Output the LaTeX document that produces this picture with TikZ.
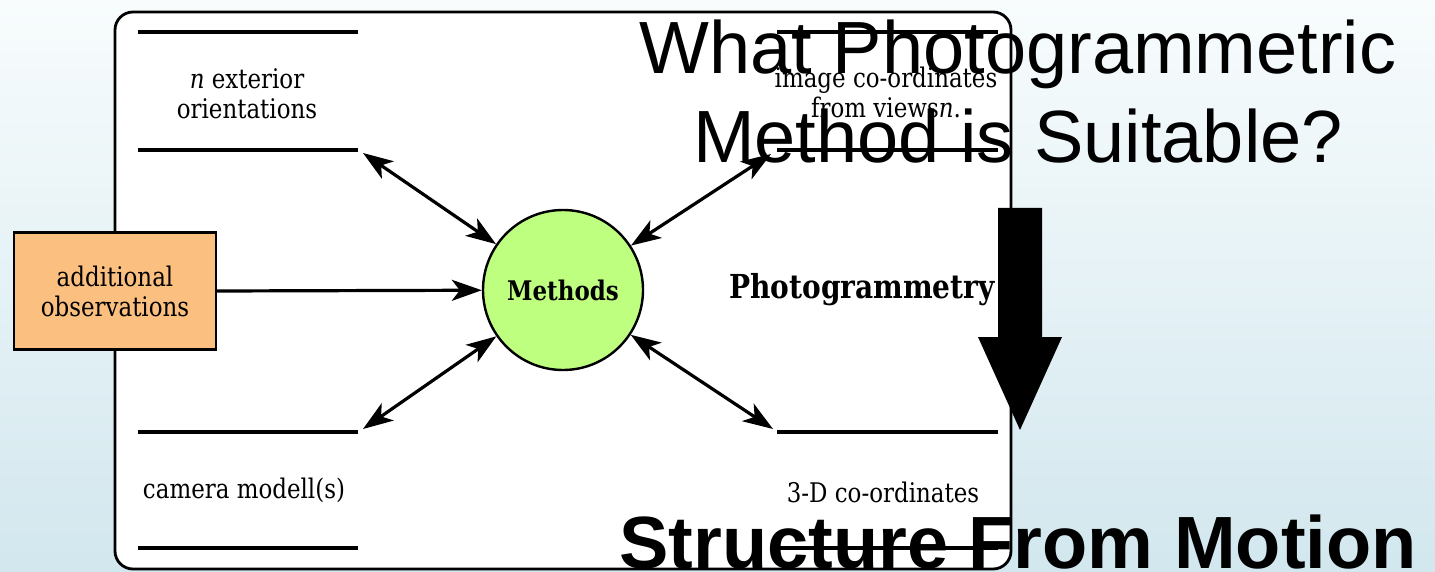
\documentclass[tikz,border=0pt]{standalone}
\usepackage{fontspec}
\setmainfont{Liberation Sans}
\newfontfamily\dfdfont[FakeStretch=0.85]{DejaVu Serif}
\usetikzlibrary{arrows.meta}

\definecolor{bgtop}{RGB}{248,252,253}
\definecolor{bgbot}{RGB}{210,231,238}
\definecolor{extfill}{RGB}{251,191,127}
\definecolor{procfill}{RGB}{191,255,127}

\begin{document}
\begin{tikzpicture}[x=1pt,y=-1pt,
  flow/.style={line width=3.2pt,-{Stealth[length=30pt,width=21pt,inset=8pt]}},
  biflow/.style={line width=3.2pt,{Stealth[length=30pt,width=21pt,inset=8pt]}-{Stealth[length=30pt,width=21pt,inset=8pt]}},
  storeline/.style={line width=3.2pt},
  dfd/.style={font=\dfdfont\fontsize{27}{30}\selectfont,align=center,inner sep=0pt},
  headline/.style={font=\fontsize{74}{89}\selectfont,align=center,inner sep=0pt}
]
\useasboundingbox (0,0) rectangle (1435,572);

% slide background
\shade[top color=bgtop,bottom color=bgbot] (0,0) rectangle (1435,572);

% diagram frame
\draw[line width=2.8pt,fill=white,rounded corners=18pt] (115,12) rectangle (1011,569);

% data stores: two rules each
\draw[storeline] (138,32) -- (358,32);
\draw[storeline] (138,150) -- (358,150);
\draw[storeline] (138,432) -- (358,432);
\draw[storeline] (138,548) -- (358,548);
\draw[storeline] (777,32) -- (998,32);
\draw[storeline] (777,150) -- (998,150);
\draw[storeline] (777,432) -- (998,432);
\draw[storeline] (777,548) -- (998,548);

\node[dfd] (ext) at (247,94) {\textit{n} exterior\\orientations};
\node[dfd] (img) at (886,92) {image co-ordinates\\from views\textit{n}.};
\node[dfd] (cam) at (244,490) {camera modell(s)};
\node[dfd] (xyz) at (883,492) {3-D co-ordinates};

% connector ends at the data stores
\coordinate (extend) at (363,153);
\coordinate (imgend) at (771,154);
\coordinate (camend) at (363,429);
\coordinate (xyzend) at (773,429);

% process and external entity
\node[circle,draw,line width=2.4pt,fill=procfill,minimum size=160pt,inner sep=0pt,
      font=\dfdfont\fontsize{27}{30}\selectfont\bfseries] (meth) at (563,290) {Methods};
\node[draw,line width=2.4pt,fill=extfill,minimum width=202pt,minimum height=117pt,
      align=center,font=\dfdfont\fontsize{27}{30}\selectfont] (obs) at (115,291) {additional\\observations};

\node[font=\dfdfont\fontsize{33}{36}\selectfont\bfseries,anchor=base] (photo) at (862,298) {Photogrammetry};

% flows
\draw[flow] (obs.east) -- (meth);
\draw[biflow] (meth) -- (extend);
\draw[biflow] (meth) -- (imgend);
\draw[biflow] (meth) -- (camend);
\draw[biflow] (meth) -- (xyzend);

% slide headings
\node[headline] (question) at (1018,92) {What Photogrammetric\\Method is Suitable?};
\node[font=\fontsize{74}{89}\selectfont\bfseries,anchor=base,inner sep=0pt] (sfm) at (1018,568) {Structure From Motion};

% big down arrow
\fill[black] (998,208) -- (1042,208) -- (1042,337) -- (1062,337) -- (1020,430)
  -- (978,337) -- (998,337) -- cycle;
\end{tikzpicture}
\end{document}
